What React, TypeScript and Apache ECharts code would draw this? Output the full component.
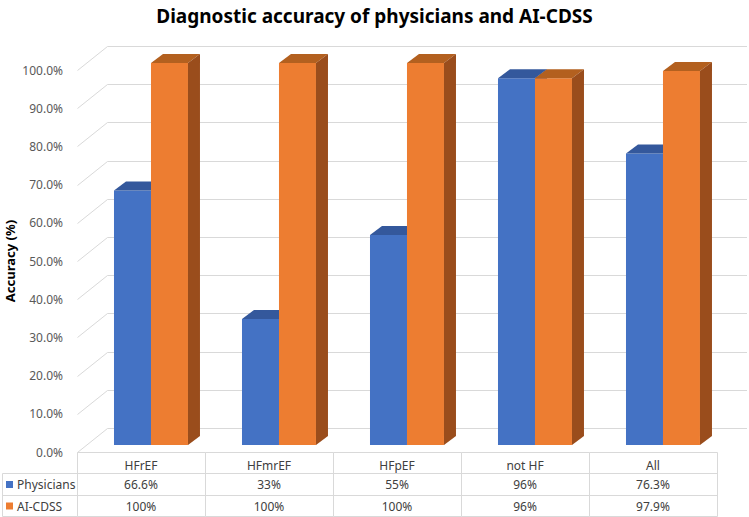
import React, { useEffect, useRef } from "react";
import * as echarts from "echarts";

const title = "Diagnostic accuracy of physicians and AI-CDSS";
const yAxisName = "Accuracy (%)";
const categories = ["HFrEF", "HFmrEF", "HFpEF", "not HF", "All"];
const seriesNames = ["Physicians", "AI-CDSS"];
const physicians = [66.6, 33, 55, 96, 76.3];
const aiCdss = [100, 100, 100, 96, 97.9];
const physiciansLabels = ["66.6%", "33%", "55%", "96%", "76.3%"];
const aiCdssLabels = ["100%", "100%", "100%", "96%", "97.9%"];
const yTicks = [0, 10, 20, 30, 40, 50, 60, 70, 80, 90, 100];

const FONT = "Noto Sans";
const faceColors = [
  { front: "#4472C4", top: "#34589C", side: "#2E4F8C" },
  { front: "#ED7D31", top: "#B3601F", side: "#9A4D1C" },
];
const GRID_COLOR = "#d9d9d9";
const WALL_DX = 30;
const WALL_DY = -24;
const BAR_DX = 12;
const BAR_DY = -9;
const BAR_SHIFT_Y = -7;
const ROW_Y = [452, 473, 495, 516];

export default function App() {
  const ref = useRef<HTMLDivElement>(null);
  useEffect(() => {
    if (!ref.current) return;
    const chart = echarts.init(ref.current, null, { renderer: "svg" });

    const barSeries = (s: number, values: number[]) => ({
      type: "custom",
      name: seriesNames[s],
      z: 5 + s,
      data: values.map((v, i) => [i, v]),
      renderItem: (params: any, api: any) => {
        const i = api.value(0);
        const v = api.value(1);
        const base = api.coord([i, 0]);
        const top = api.coord([i, v]);
        const bw = api.size([1, 0])[0];
        const w = bw * 0.289;
        const x0 = base[0] - bw * 0.211 + s * w;
        const yB = base[1] + BAR_SHIFT_Y;
        const yT = top[1] + BAR_SHIFT_Y;
        const c = faceColors[s];
        return {
          type: "group",
          children: [
            {
              type: "rect",
              shape: { x: x0, y: yT, width: w, height: yB - yT },
              style: { fill: c.front },
            },
            {
              type: "polygon",
              shape: {
                points: [
                  [x0, yT],
                  [x0 + w, yT],
                  [x0 + w + BAR_DX, yT + BAR_DY],
                  [x0 + BAR_DX, yT + BAR_DY],
                ],
              },
              style: { fill: c.top },
            },
            {
              type: "polygon",
              shape: {
                points: [
                  [x0 + w, yT],
                  [x0 + w + BAR_DX, yT + BAR_DY],
                  [x0 + w + BAR_DX, yB + BAR_DY],
                  [x0 + w, yB],
                ],
              },
              style: { fill: c.side },
            },
          ],
        };
      },
    });

    const option: any = {
      animation: false,
      textStyle: { fontFamily: FONT },
      title: {
        text: title,
        left: "center",
        top: 1,
        textStyle: { fontFamily: FONT, fontSize: 19, fontWeight: "bold", color: "#000" },
      },
      grid: {
        left: 77,
        right: 32,
        top: 70,
        bottom: 65,
        containLabel: false,
        outerBoundsMode: "none",
      },
      xAxis: {
        type: "category",
        data: categories,
        axisLine: { show: false },
        axisTick: { show: false },
        axisLabel: { show: false },
        splitLine: { show: false },
      },
      yAxis: {
        type: "value",
        min: 0,
        max: 100,
        interval: 10,
        axisLine: { show: false },
        axisTick: { show: false },
        splitLine: { show: false },
        axisLabel: {
          margin: 14,
          fontSize: 12,
          color: "#595959",
          fontFamily: FONT,
          formatter: (v: number) => v.toFixed(1) + "%",
        },
      },
      graphic: [
        {
          type: "text",
          x: 10,
          y: 261,
          rotation: Math.PI / 2,
          style: {
            text: yAxisName,
            fontFamily: FONT,
            fontSize: 13,
            fontWeight: "bold",
            fill: "#000",
            align: "center",
            verticalAlign: "middle",
          },
        },
        {
          type: "polyline",
          shape: { points: [[2.5, ROW_Y[1] + 0.5], [77.5, ROW_Y[1] + 0.5]] },
          style: { stroke: GRID_COLOR, lineWidth: 1, fill: null },
        },
        {
          type: "polyline",
          shape: { points: [[2.5, ROW_Y[2] + 0.5], [77.5, ROW_Y[2] + 0.5]] },
          style: { stroke: GRID_COLOR, lineWidth: 1, fill: null },
        },
        {
          type: "polyline",
          shape: { points: [[2.5, ROW_Y[3] + 0.5], [77.5, ROW_Y[3] + 0.5]] },
          style: { stroke: GRID_COLOR, lineWidth: 1, fill: null },
        },
        {
          type: "polyline",
          shape: { points: [[2.5, ROW_Y[1] + 0.5], [2.5, ROW_Y[3] + 0.5]] },
          style: { stroke: GRID_COLOR, lineWidth: 1, fill: null },
        },
        ...seriesNames.flatMap((name, s) => {
          const cy = (ROW_Y[s + 1] + ROW_Y[s + 2]) / 2 + 0.5;
          return [
            {
              type: "rect",
              shape: { x: 6, y: cy - 3.5, width: 7, height: 7 },
              style: { fill: faceColors[s].front },
            },
            {
              type: "text",
              x: 17,
              y: cy,
              style: {
                text: name,
                fontFamily: FONT,
                fontSize: 12,
                fill: "#404040",
                verticalAlign: "middle",
              },
            },
          ];
        }),
      ],
      series: [
        {
          type: "custom",
          z: 1,
          data: yTicks.map((v) => [0, v]),
          renderItem: (params: any, api: any) => {
            const v = api.value(1);
            const p = api.coord([0, v]);
            const cs = params.coordSys;
            const y = Math.round(p[1]) + 0.5;
            const x0 = cs.x + 0.5;
            return {
              type: "polyline",
              shape: {
                points: [
                  [x0, y],
                  [x0 + WALL_DX, y + WALL_DY],
                  [cs.x + cs.width + WALL_DX, y + WALL_DY],
                ],
              },
              style: { stroke: GRID_COLOR, lineWidth: 1, fill: null },
            };
          },
        },
        barSeries(0, physicians),
        barSeries(1, aiCdss),
        {
          type: "custom",
          z: 3,
          data: categories.map((c, i) => [i, 0]),
          renderItem: (params: any, api: any) => {
            const i = api.value(0);
            const base = api.coord([i, 0]);
            const bw = api.size([1, 0])[0];
            const xl = Math.round(base[0] - bw / 2) + 0.5;
            const xr = Math.round(base[0] + bw / 2) + 0.5;
            const cx = base[0];
            const line = (pts: number[][]) => ({
              type: "polyline",
              shape: { points: pts },
              style: { stroke: GRID_COLOR, lineWidth: 1, fill: null },
            });
            const children: any[] = [
              line([[xl, ROW_Y[0] + 0.5], [xr, ROW_Y[0] + 0.5]]),
              line([[xl, ROW_Y[1] + 0.5], [xr, ROW_Y[1] + 0.5]]),
              line([[xl, ROW_Y[2] + 0.5], [xr, ROW_Y[2] + 0.5]]),
              line([[xl, ROW_Y[3] + 0.5], [xr, ROW_Y[3] + 0.5]]),
              line([[xl, ROW_Y[0] + 0.5], [xl, ROW_Y[3] + 0.5]]),
            ];
            if (i === categories.length - 1) {
              children.push(line([[xr, ROW_Y[0] + 0.5], [xr, ROW_Y[3] + 0.5]]));
            }
            const texts = [categories[i], physiciansLabels[i], aiCdssLabels[i]];
            const cys = [465, 484.5, 506];
            texts.forEach((t, r) => {
              children.push({
                type: "text",
                x: cx,
                y: cys[r],
                style: {
                  text: t,
                  fontFamily: FONT,
                  fontSize: 12,
                  fill: "#404040",
                  align: "center",
                  verticalAlign: "middle",
                },
              });
            });
            return { type: "group", children };
          },
        },
      ],
    };
    chart.setOption(option);
    return () => chart.dispose();
  }, []);
  return (
    <div
      ref={ref}
      style={{ position: "fixed", left: 0, top: 0, width: 749, height: 517, background: "#fff" }}
    />
  );
}
